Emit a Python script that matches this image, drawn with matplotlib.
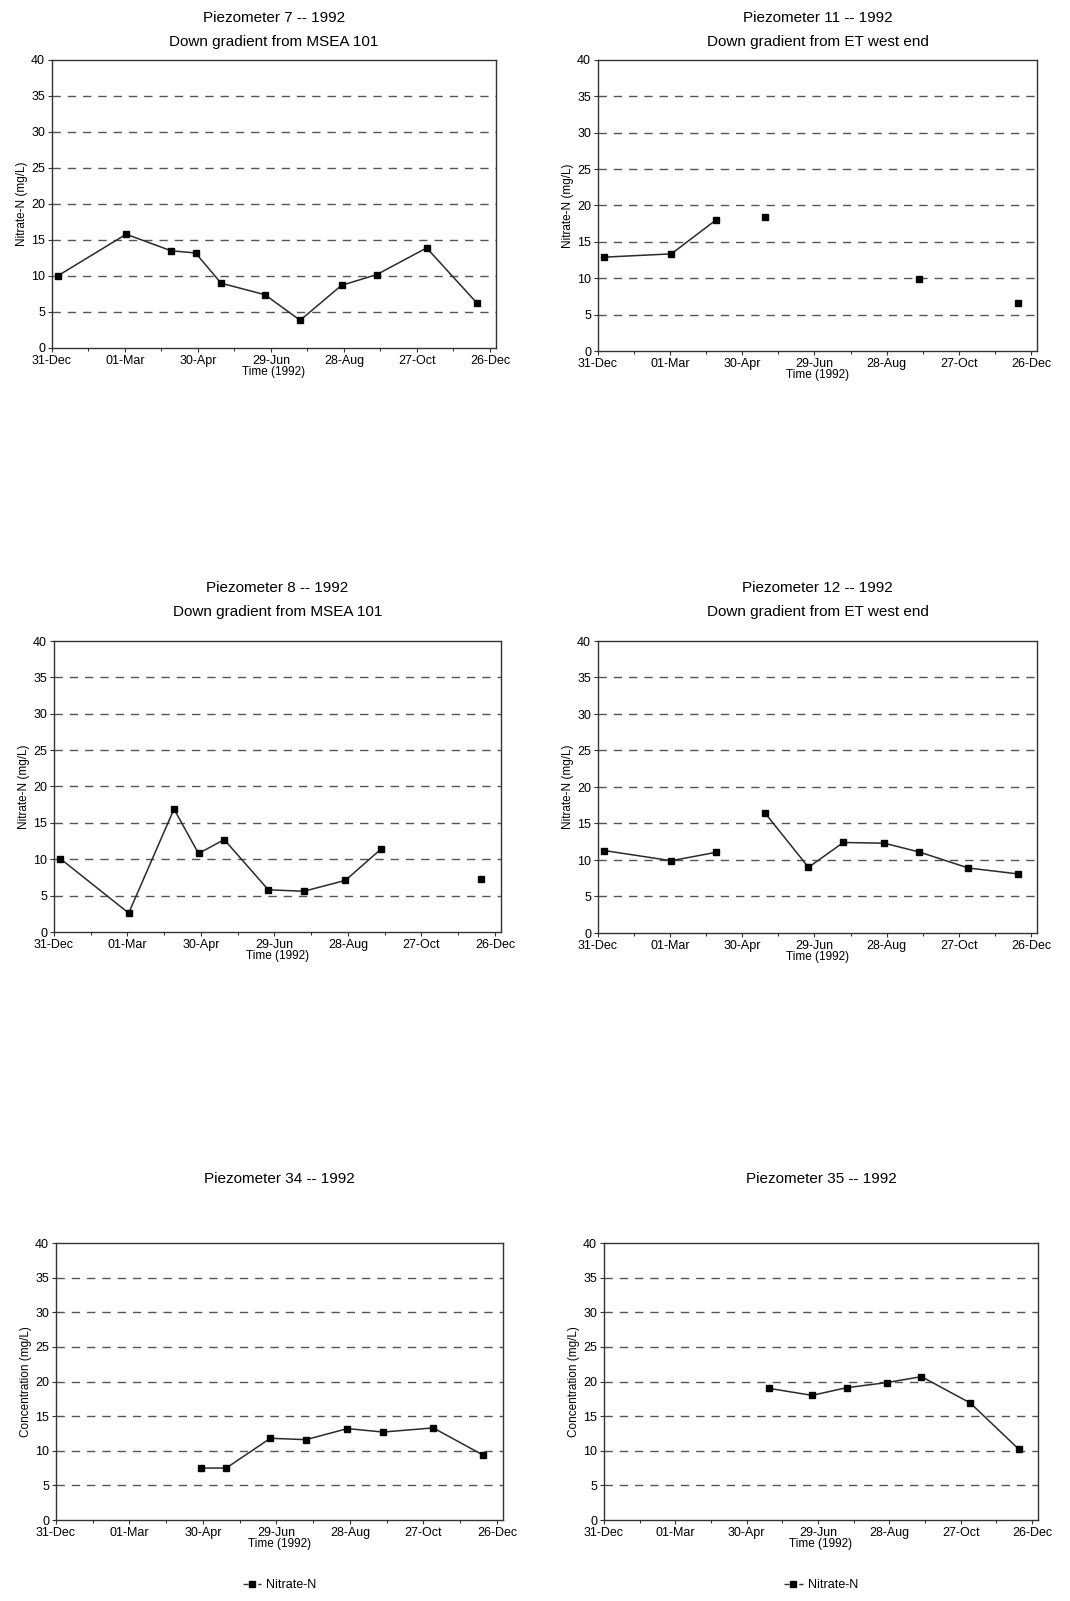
import numpy as np
import matplotlib
matplotlib.use("Agg")
import matplotlib.pyplot as plt
from matplotlib.lines import Line2D

plt.rcParams['font.family'] = ['Liberation Sans', 'DejaVu Sans']

# Sampling days (days after 31-Dec-1991)
sample_days = [5, 61, 98, 118, 139, 175, 204, 238, 267, 308, 349]
nan = np.nan
p7 = [10.05, 15.8, 13.5, 13.2, 9.0, 7.4, 3.85, 8.7, 10.2, 13.9, 6.3]
p11 = [12.9, 13.35, 18.0, nan, 18.4, nan, nan, nan, 9.85, nan, 6.6]
p8 = [10.1, 2.6, 16.9, 10.8, 12.7, 5.8, 5.6, 7.1, 11.4, nan, 7.3]
p12 = [11.3, 9.9, 11.05, nan, 16.4, 9.0, 12.4, 12.3, 11.1, 8.9, 8.1]
p34 = [nan, nan, nan, 7.5, 7.5, 11.8, 11.6, 13.2, 12.7, 13.3, 9.35]
p35 = [nan, nan, nan, nan, 19.0, 18.0, 19.1, 19.85, 20.7, 16.9, 10.2]

tick_days = [0, 60, 120, 180, 240, 300, 360]
tick_labels = ['31-Dec', '01-Mar', '30-Apr', '29-Jun', '28-Aug', '27-Oct', '26-Dec']

titles = ["Piezometer 7 -- 1992\nDown gradient from MSEA 101",
          "Piezometer 11 -- 1992\nDown gradient from ET west end",
          "Piezometer 8 -- 1992\nDown gradient from MSEA 101",
          "Piezometer 12 -- 1992\nDown gradient from ET west end",
          "Piezometer 34 -- 1992",
          "Piezometer 35 -- 1992"]
series = [p7, p11, p8, p12, p34, p35]
ylabels = ["Nitrate-N (mg/L)"] * 4 + ["Concentration (mg/L)"] * 2

W, H = 1070, 1601
fig = plt.figure(figsize=(W / 100, H / 100), dpi=100)

# pixel boxes: left, top, right, bottom
boxes = [(52, 60, 496, 348), (598, 60, 1037, 351),
         (54, 641, 501, 932), (598, 641, 1037, 933),
         (56, 1243, 503, 1520), (604, 1243, 1038, 1520)]
title_y = [11, 11, 581, 581, 1172, 1172]

for i, (box, vals) in enumerate(zip(boxes, series)):
    l, t, r, b = box
    ax = fig.add_axes([l / W, 1 - b / H, (r - l) / W, (b - t) / H])
    ax.plot(sample_days, vals, color='#2a2a2a', lw=1.1, marker='s', ms=4,
            mfc='black', mec='black', label='Nitrate-N')
    ax.set_xlim(0, 365)
    ax.set_ylim(0, 40)
    ax.set_yticks(range(0, 41, 5))
    ax.set_xticks(tick_days)
    ax.set_xticklabels(tick_labels)
    ax.set_xticks(range(30, 361, 60), minor=True)
    for y in range(5, 40, 5):
        ax.axhline(y, color='#555555', lw=1.0, ls=(0, (6, 5)), zorder=0)
    for s in ax.spines.values():
        s.set_color('#333333')
        s.set_linewidth(1.0)
    ax.tick_params(axis='both', labelsize=9, length=3, pad=2, color='#333333')
    ax.tick_params(axis='x', which='minor', length=2)
    ax.set_ylabel(ylabels[i], fontsize=8.5, labelpad=2)
    ax.set_xlabel("Time (1992)", fontsize=8.5, labelpad=-1)
    cx = (l + r) / 2 / W
    fig.text(cx, 1 - title_y[i] / H, titles[i], ha='center', va='top',
             fontsize=11, linespacing=1.95)
    if i >= 4:
        h = Line2D([0], [0], color='#333333', lw=1, ls='--', marker='s', ms=4,
                   mfc='black', mec='black')
        ax.legend([h], ['Nitrate-N'], loc='center', frameon=False, fontsize=9,
                  bbox_to_anchor=(0.5, (1520 - 1585) / (1520 - 1243)),
                  handlelength=1.5, handletextpad=0.4)

fig.savefig("out.png", dpi=100, facecolor='white')
